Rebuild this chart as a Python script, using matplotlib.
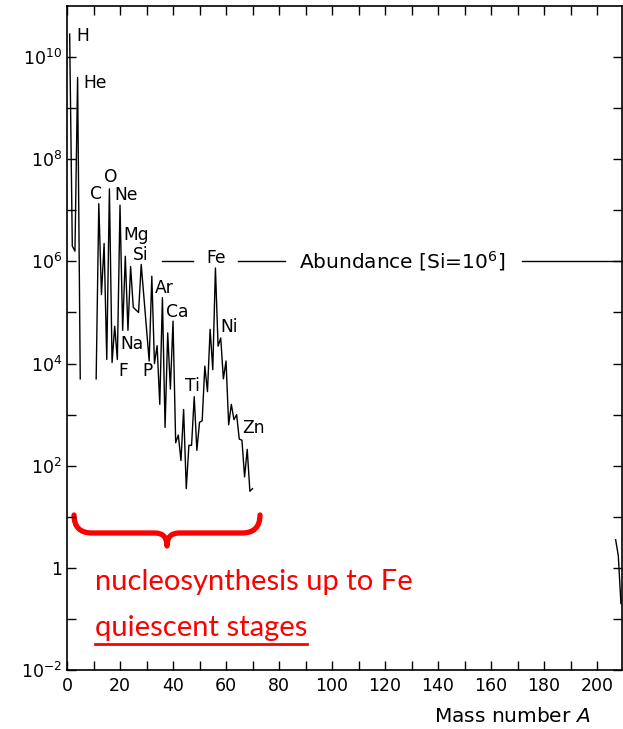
import numpy as np
import matplotlib.pyplot as plt
from matplotlib.path import Path
from matplotlib.patches import PathPatch
from matplotlib.lines import Line2D
from matplotlib.ticker import NullLocator

plt.rcParams['font.family'] = ['DejaVu Sans']
plt.rcParams['mathtext.fontset'] = 'dejavusans'
plt.rcParams['mathtext.default'] = 'regular'

# solar abundances (Si = 1e6), log10 values
mass_light = [1, 2, 3, 4, 5]
log_light = [10.45, 6.3, 6.2, 9.6, 3.7]

mass_mid = list(range(11, 71))
log_mid = [3.7, 7.13, 5.35, 6.35, 4.08, 7.42, 4.02, 4.73, 4.08, 7.1,
           4.65, 6.1, 4.65, 5.9, 5.1, 5.05, 5.0, 5.94, 5.31, 4.68,
           4.05, 5.71, 4.0, 4.35, 3.2, 5.29, 2.75, 4.6, 3.5, 4.83,
           2.45, 2.6, 2.1, 3.1, 1.55, 2.4, 2.4, 3.35, 2.3, 2.85,
           2.88, 3.95, 3.45, 4.67, 3.88, 5.87, 4.34, 4.5, 3.7, 4.05,
           2.8, 3.2, 2.9, 3.0, 2.52, 2.5, 1.78, 2.32, 1.5, 1.55]

mass_pb = [207, 208, 209]
log_pb = [0.55, 0.24, -0.7]

# element labels: name, A, log10 abundance of the label centre
elements = ['H', 'He', 'C', 'O', 'Ne', 'Mg', 'Si', 'Fe', 'Ar', 'Ca', 'Ni',
            'Na', 'F', 'P', 'Ti', 'Zn']
elem_A = [6.0, 10.6, 11.1, 16.4, 22.3, 26.2, 27.8, 56.2, 36.8, 41.4, 61.0,
          24.4, 21.1, 30.2, 47.4, 70.4]
elem_log = [10.41, 9.49, 7.32, 7.66, 7.30, 6.51, 6.12, 6.07, 5.47, 5.01, 4.72,
            4.39, 3.85, 3.85, 3.56, 2.74]

# pieces of the Si=1e6 reference line (gaps hold the labels)
ref_start = [36, 64.5, 171.7]
ref_end = [47.5, 82.3, 209.4]

fig = plt.figure(figsize=(6.23, 7.29), dpi=100)
ax = fig.add_axes([67 / 623, 1 - 670 / 729, 555 / 623, 664 / 729])

for m, lg in [(mass_light, log_light), (mass_mid, log_mid), (mass_pb, log_pb)]:
    ax.plot(m, 10.0 ** np.array(lg), color='black', lw=1.0)

ax.set_yscale('log')
ax.set_ylim(1e-2, 1e11)
ax.set_xlim(0, 209.4)

exps = np.arange(-2, 11)
ax.set_yticks(10.0 ** exps)
ax.set_yticklabels(['' if e % 2 else ('1' if e == 0 else f'$10^{{{e}}}$')
                    for e in exps])
ax.yaxis.set_minor_locator(NullLocator())
ax.set_xticks(range(0, 201, 20))
ax.set_xticks(range(10, 201, 20), minor=True)
ax.tick_params(which='both', direction='in', top=True, right=True,
               length=6.5, width=1, labelsize=12.5)
ax.tick_params(axis='x', pad=5)
for s in ax.spines.values():
    s.set_linewidth(1.2)

for name, a, lg in zip(elements, elem_A, elem_log):
    ax.text(a, 10 ** lg, name, fontsize=12.3, ha='center', va='center')

for xs, xe in zip(ref_start, ref_end):
    ax.plot([xs, xe], [1e6, 1e6], color='black', lw=1)
ax.text(126.4, 1e6, 'Abundance [Si=10$^6$]', fontsize=14.5,
        ha='center', va='center')

fig.text(590 / 623, 1 - 722 / 729, 'Mass number $\\mathit{A}$', fontsize=14.5,
         ha='right', va='baseline')

# red brace (axes fraction)
def af(px, py):
    return ((px - 67) / 555, (670 - py) / 664)

verts = [af(74, 515), af(74, 533), af(92, 533),
         af(155, 533), af(167, 533), af(167, 546),
         af(167, 533), af(179, 533),
         af(242, 533), af(260, 533), af(260, 515)]
codes = [Path.MOVETO, Path.CURVE3, Path.CURVE3,
         Path.LINETO, Path.CURVE3, Path.CURVE3,
         Path.CURVE3, Path.CURVE3,
         Path.LINETO, Path.CURVE3, Path.CURVE3]
brace = PathPatch(Path(verts, codes), transform=ax.transAxes, fill=False,
                  edgecolor='#ff0000', lw=3.8, capstyle='round',
                  joinstyle='round', clip_on=False)
ax.add_patch(brace)

t1 = fig.text(95 / 623, 1 - 590 / 729, 'nucleosynthesis up to Fe',
              color='#ff0000', fontsize=21, family=['Lato', 'DejaVu Sans'],
              va='baseline')
t2 = fig.text(95 / 623, 1 - 636 / 729, 'quiescent stages',
              color='#ff0000', fontsize=21, family=['Lato', 'DejaVu Sans'],
              va='baseline')
fig.canvas.draw()
bb = t2.get_window_extent()
x0, x1 = bb.x0 / fig.bbox.width, bb.x1 / fig.bbox.width
fig.add_artist(Line2D([x0, x1], [1 - 644 / 729] * 2, color='#ff0000', lw=2,
                      transform=fig.transFigure))

fig.savefig('out.png', dpi=100)
